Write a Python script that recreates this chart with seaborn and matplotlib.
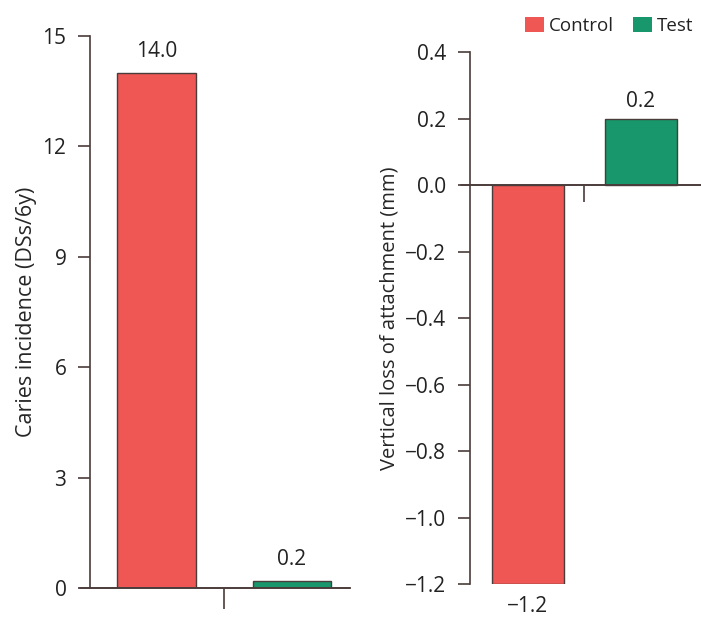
import matplotlib
matplotlib.use("Agg")
import matplotlib.pyplot as plt
import seaborn as sns
import pandas as pd
from matplotlib.patches import Patch

groups = ["Control", "Test"]
caries = [14.0, 0.2]
attachment = [-1.2, 0.2]
caries_ticks = [0, 3, 6, 9, 12, 15]
attach_ticks = [-1.2, -1.0, -0.8, -0.6, -0.4, -0.2, 0.0, 0.2, 0.4]

colors = {"Control": "#ee5753", "Test": "#17976b"}
edge = "#4a3c3a"

sns.set_theme(style="white")
plt.rcParams["font.family"] = ["Open Sans", "DejaVu Sans"]
plt.rcParams["text.color"] = "#222222"
plt.rcParams["ytick.color"] = "#222222"

df_c = pd.DataFrame({"group": groups, "value": caries})
df_a = pd.DataFrame({"group": groups, "value": attachment})

fig = plt.figure(figsize=(7.01, 6.17), dpi=100)
ax1 = fig.add_axes([0.1284, 0.047, 0.371, 0.8947])
ax2 = fig.add_axes([0.6705, 0.0535, 0.3295, 0.862])


def style_axis(ax, ticks, lim, fmt, xtick_len):
    for s in ["top", "right"]:
        ax.spines[s].set_visible(False)
    ax.spines["left"].set_color(edge)
    ax.spines["left"].set_linewidth(1.2)
    ax.spines["bottom"].set_position(("data", 0))
    ax.spines["bottom"].set_color(edge)
    ax.spines["bottom"].set_linewidth(1.2)
    ax.set_ylim(*lim)
    ax.set_yticks(ticks)
    ax.set_yticklabels([fmt(t) for t in ticks], fontsize=15)
    ax.set_xticks([0.5])
    ax.set_xticklabels([""])
    ax.tick_params(axis="y", direction="out", length=9, width=1.2, color=edge, pad=8, left=True)
    ax.tick_params(axis="x", direction="out", length=xtick_len, width=1.2, color=edge, bottom=True)
    ax.set_xlabel("")


# left panel: caries
sns.barplot(data=df_c, x="group", y="value", hue="group", palette=colors, saturation=1,
            width=0.58, edgecolor=edge, linewidth=1.0, legend=False, ax=ax1)
ax1.set_xlim(-0.49, 1.43)
style_axis(ax1, caries_ticks, (0, 15), lambda t: f"{t:g}", 15)
ax1.set_ylabel("Caries incidence (DSs/6y)", fontsize=15.5, labelpad=4)
for i, v in enumerate(caries):
    ax1.text(i, v + 0.3, f"{v:.1f}", ha="center", va="bottom", fontsize=15)
ax1.axhline(0, xmin=-0.04, xmax=1, color=edge, lw=1.2, clip_on=False)

# right panel: attachment loss
sns.barplot(data=df_a, x="group", y="value", hue="group", palette=colors, saturation=1,
            width=0.64, edgecolor=edge, linewidth=1.0, legend=False, ax=ax2)
ax2.set_xlim(-0.51, 1.53)
style_axis(ax2, attach_ticks, (-1.2, 0.4),
           lambda t: f"{t:.1f}".replace("-", "\u2212"), 12)
ax2.set_ylabel("Vertical loss of attachment (mm)", fontsize=14.5, labelpad=4)
for i, v in enumerate(attachment):
    if v >= 0:
        ax2.text(i, v + 0.02, f"{v:.1f}", ha="center", va="bottom", fontsize=15)
    else:
        ax2.text(i, v - 0.035, f"{v:.1f}".replace("-", "\u2212"), ha="center",
                 va="top", fontsize=15, clip_on=False)
ax2.axhline(0, xmin=-0.04, xmax=1, color=edge, lw=1.2, clip_on=False)

handles = [Patch(facecolor=colors[g], edgecolor="none", label=g) for g in groups]
fig.legend(handles=handles, loc="upper right", bbox_to_anchor=(1.0, 0.985), ncol=2,
           frameon=False, fontsize=13.5, handlelength=1.05, handleheight=0.9,
           handletextpad=0.25, columnspacing=1.0, borderaxespad=0)

fig.savefig("out.png", dpi=100)
